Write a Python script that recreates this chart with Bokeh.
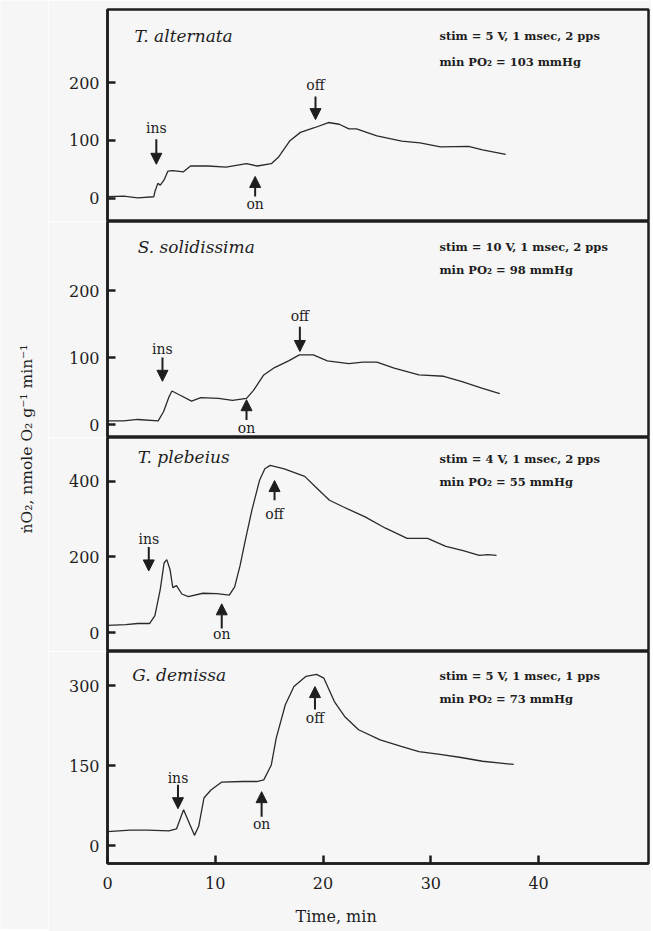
import numpy as np
from bokeh.plotting import figure
from bokeh.models import Range1d, Arrow, NormalHead, FixedTicker, Title
from bokeh.layouts import column, row
from bokeh.embed import file_html
from bokeh.resources import INLINE
from bokeh.core.properties import value

# ---------------- data ----------------
species = ["T. alternata", "S. solidissima", "T. plebeius", "G. demissa"]
stim_text = ["stim = 5 V, 1 msec, 2 pps", "stim = 10 V, 1 msec, 2 pps",
             "stim = 4 V, 1 msec, 2 pps", "stim = 5 V, 1 msec, 1 pps"]
po2_text = ["min PO₂ = 103 mmHg", "min PO₂ = 98 mmHg",
            "min PO₂ = 55 mmHg", "min PO₂ = 73 mmHg"]

ta_t = [0, 1.5, 2.8, 4.3, 4.4, 4.67, 4.9, 5.25, 5.6, 6.06, 7.05, 7.7, 9.35, 11.0, 12.9, 13.9,
        15.2, 15.9, 16.9, 17.9, 19.2, 20.5, 21.5, 22.4, 23.1, 25.0, 27.3, 29.0, 30.9, 33.5, 34.8, 36.95]
ta_v = [3, 4, 1, 3, 12, 26, 23, 32, 47, 48, 46, 56, 56, 54, 60, 56,
        60, 72, 99, 114, 122, 131, 128, 120, 120, 108, 99, 96, 89, 90, 84, 76]

ss_t = [0, 1.5, 2.8, 4.7, 5.2, 5.7, 5.98, 6.7, 7.8, 8.66, 10.3, 11.6, 12.9, 13.55, 14.5,
        15.5, 16.8, 17.8, 19.1, 20.4, 22.4, 23.7, 25.0, 26.6, 28.9, 31.2, 32.9, 34.8, 36.4]
ss_v = [5.5, 5.5, 7.5, 5.5, 19, 41, 50, 44, 35, 40, 39, 36, 39, 51, 74,
        85, 95, 104, 104, 95, 91, 93, 93, 84, 74, 72, 64, 54, 46]

tp_t = [0, 1.7, 2.8, 3.9, 4.4, 4.9, 5.25, 5.5, 5.8, 6.06, 6.4, 6.9, 7.5, 8.85, 10.15, 11.3,
        11.8, 12.3, 12.8, 13.4, 14.1, 14.6, 15.1, 16.4, 18.3, 19.6, 20.6, 21.9, 23.9, 25.8,
        27.8, 29.7, 31.4, 33.0, 34.5, 35.3, 36.1]
tp_v = [19, 21, 24, 24, 45, 115, 184, 193, 167, 119, 124, 102, 95, 104, 103, 99,
        121, 177, 246, 324, 402, 433, 442, 433, 413, 377, 350, 332, 306, 276,
        249, 249, 228, 217, 204, 206, 204]

gd_t = [0, 2.1, 3.7, 5.7, 6.4, 7.06, 7.65, 8.07, 8.46, 8.95, 9.6, 10.6, 12.55, 13.85, 14.5,
        15.2, 15.65, 16.5, 17.3, 18.4, 19.4, 20.07, 21.05, 22.0, 23.3, 25.3, 27.25, 28.9,
        30.85, 32.8, 34.8, 37.7]
gd_v = [26, 29, 29, 27.5, 31, 67, 39, 19, 36, 89, 104, 119, 120, 120, 123,
        151, 201, 264, 298, 317, 321, 314, 270, 242, 217, 198, 186, 176,
        171, 165, 158, 152]

series_t = [ta_t, ss_t, tp_t, gd_t]
series_v = [ta_v, ss_v, tp_v, gd_v]

y_ticks = [[0, 100, 200], [0, 100, 200], [0, 200, 400], [0, 150, 300]]
x_ticks = [0, 10, 20, 30, 40]

# event times (min)
ins_time = [4.53, 5.1, 3.83, 6.54]
on_time = [13.7, 12.9, 10.6, 14.3]
off_time = [19.3, 17.85, 15.5, 19.25]

# ---------------- layout / positions (data units of each panel) ----------------
y_range = [(-39.7, 325.9), (-19.4, 303.0), (-50.0, 515.8), (-33.75, 363.8)]
frame_h = [212, 216, 214, 212]
species_pos = [(2.5, 281), (2.8, 265), (2.8, 463), (2.3, 319)]
stim_x = 30.8
stim_y = [(281, 235), (265, 231), (458, 397), (317, 274)]
# (tail, tip, label)
ins_arrow = [(102, 59, 121), (100, 64.5, 112), (226, 163, 247), (114, 69, 127.5)]
on_arrow = [(3.4, 38, -9), (6.6, 37, -4.5), (10.5, 76, -2.6), (54, 101, 41)]
off_arrow = [(176, 136, 195), (146, 109, 162), (350, 402, 313), (255, 298, 240)]

BG = "#f6f6f6"
INK = "#1e1e1e"
SERIF = "DejaVu Serif"
TOP = 9
BOTTOM = 66

xr = Range1d(0, 50.2)
panels = []
for i in range(4):
    last = (i == 3)
    p = figure(x_range=xr, y_range=Range1d(*y_range[i]),
               frame_width=541, frame_height=frame_h[i],
               min_border_left=59, min_border_right=3,
               min_border_top=TOP if i == 0 else 0,
               min_border_bottom=BOTTOM if last else 0,
               output_backend="svg", toolbar_location=None)
    p.background_fill_color = BG
    p.border_fill_color = BG
    p.outline_line_color = INK
    p.outline_line_width = 2.5
    p.grid.visible = False

    ya = p.yaxis[0]
    ya.ticker = FixedTicker(ticks=y_ticks[i])
    ya.major_tick_in = 8
    ya.major_tick_out = 0
    ya.minor_tick_line_color = None
    ya.major_tick_line_width = 2.5
    ya.major_tick_line_color = INK
    ya.axis_line_width = 2.5
    ya.axis_line_color = INK
    ya.major_label_text_font = SERIF
    ya.major_label_text_font_size = "16px"
    ya.major_label_text_color = INK
    ya.major_label_standoff = 8

    xa = p.xaxis[0]
    if last:
        xa.ticker = FixedTicker(ticks=x_ticks)
        xa.major_tick_in = 8
        xa.major_tick_out = 0
        xa.minor_tick_line_color = None
        xa.major_tick_line_width = 2.5
        xa.major_tick_line_color = INK
        xa.axis_line_width = 2.5
        xa.axis_line_color = INK
        xa.major_label_text_font = SERIF
        xa.major_label_text_font_size = "16px"
        xa.major_label_text_color = INK
        xa.major_label_standoff = 13
        p.add_layout(Title(text="Time,  min", align="left", offset=188, standoff=26,
                           text_font=SERIF, text_font_size="16px",
                           text_font_style="normal", text_color=INK), "below")
    else:
        xa.visible = False

    p.line(series_t[i], series_v[i], line_width=1.3, line_color="#2a2a2a")

    p.text(x=[species_pos[i][0]], y=[species_pos[i][1]], text=[species[i]],
           text_font=value(SERIF), text_font_style="italic", text_font_size="17px",
           text_color=INK, text_baseline="middle", text_align="left")
    p.text(x=[stim_x, stim_x], y=list(stim_y[i]), text=[stim_text[i], po2_text[i]],
           text_font=value(SERIF), text_font_style="bold", text_font_size="11.5px",
           text_color=INK, text_baseline="middle", text_align="left")

    arrows = [(ins_time[i], ins_arrow[i], "ins"), (on_time[i], on_arrow[i], "on"),
              (off_time[i], off_arrow[i], "off")]
    for t, (tail, tip, lab), txt in arrows:
        p.add_layout(Arrow(end=NormalHead(size=11, fill_color=INK, line_color=INK, line_width=1),
                           x_start=t, y_start=tail, x_end=t, y_end=tip,
                           line_width=2, line_color=INK))
        p.text(x=[t], y=[lab], text=[txt], text_font=value(SERIF), text_font_size="14px",
               text_color=INK, text_baseline="middle", text_align="center")
    panels.append(p)

total_h = TOP + sum(frame_h) + BOTTOM
lab = figure(x_range=Range1d(0, 1), y_range=Range1d(0, 1), frame_width=48, frame_height=total_h,
             min_border=0, output_backend="svg", toolbar_location=None)
lab.axis.visible = False
lab.grid.visible = False
lab.outline_line_color = None
lab.background_fill_color = BG
lab.border_fill_color = BG
lab.text(x=[0.56], y=[1 - 436 / total_h], text=["ṅO₂,  nmole O₂ g⁻¹ min⁻¹"], angle=np.pi / 2,
         text_font=value(SERIF), text_font_size="15.5px", text_color=INK,
         text_align="center", text_baseline="middle")

layout = row(lab, column(*panels, spacing=0), spacing=0)
open("out.html", "w").write(file_html(layout, INLINE))
